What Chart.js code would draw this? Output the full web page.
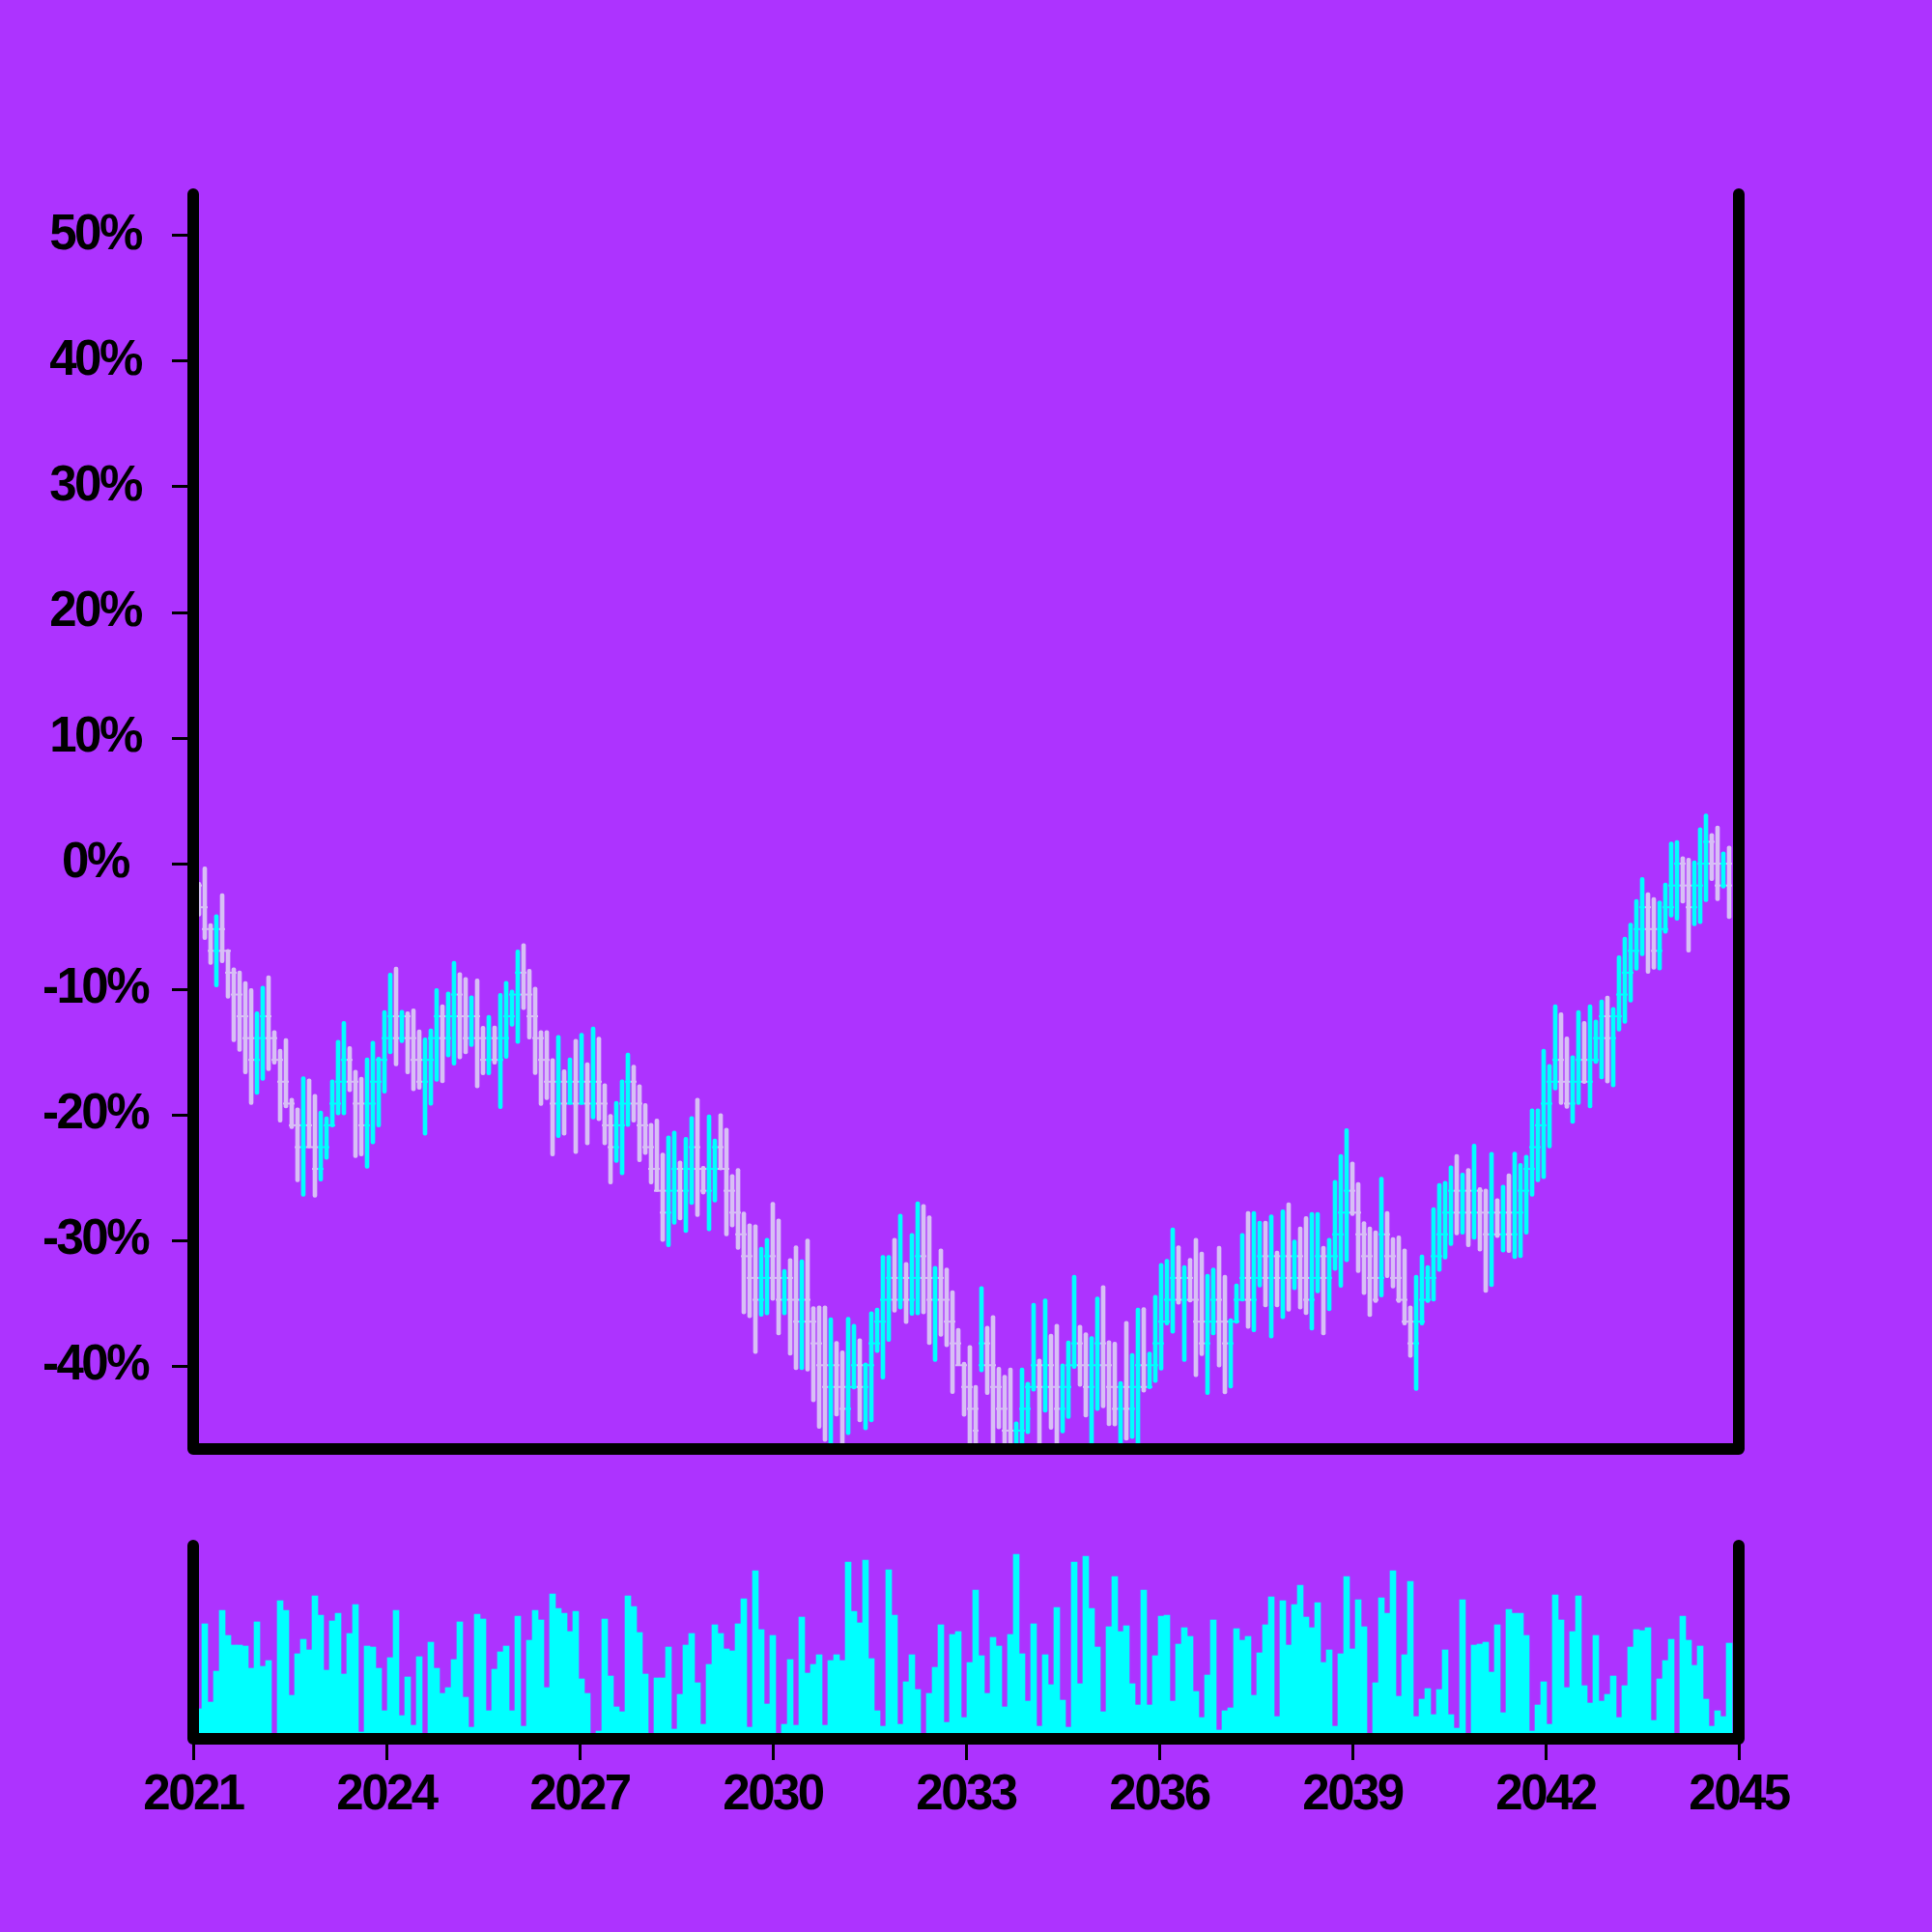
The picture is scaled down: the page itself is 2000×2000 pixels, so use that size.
<!DOCTYPE html>
<html>
<head>
<meta charset="utf-8">
<script src="https://cdn.jsdelivr.net/npm/chart.js@4.4.1/dist/chart.umd.min.js"></script>
<style>
    html, body { margin: 0; padding: 0; background: #ad33ff; }
    #wrap { position: relative; width: 2000px; height: 2000px; overflow: hidden; }
    #priceChart { position: absolute; left: 0; top: 0; }
    #volumeChart { position: absolute; left: 0; top: 1560px; }
</style>
</head>
<body>
<div id="wrap">
    <canvas id="priceChart" width="2000" height="1540"></canvas>
    <canvas id="volumeChart" width="2000" height="440"></canvas>
</div>
<script>
// x axis: years, one bar roughly every 33 days
const firstBarYear = 2021.09;
const barStepYears = 0.09;
const yearTicks = [2021, 2024, 2027, 2030, 2033, 2036, 2039, 2042, 2045];
const pctTicks = [-40, -30, -20, -10, 0, 10, 20, 30, 40, 50];

// OHLC in % change
const open = [
    -1.74,-3.47,-5.21,-6.94,-5.21,-6.94,-8.68,-10.42,-12.15,-13.89,
    -15.62,-13.89,-12.15,-13.89,-15.62,-17.36,-19.1,-20.83,-22.57,-20.83,
    -22.57,-24.3,-22.57,-20.83,-19.1,-17.36,-15.62,-17.36,-19.1,-20.83,
    -19.1,-17.36,-15.62,-13.89,-12.15,-13.89,-12.15,-13.89,-15.62,-17.36,
    -15.62,-13.89,-12.15,-13.89,-12.15,-10.42,-12.15,-13.89,-12.15,-13.89,
    -15.62,-13.89,-15.62,-13.89,-12.15,-10.42,-8.68,-10.42,-12.15,-13.89,
    -15.62,-17.36,-19.1,-17.36,-19.1,-17.36,-19.1,-17.36,-19.1,-17.36,
    -19.1,-20.83,-22.57,-20.83,-19.1,-17.36,-19.1,-20.83,-22.57,-24.3,
    -26.04,-27.78,-26.04,-24.3,-26.04,-24.3,-22.57,-24.3,-26.04,-24.3,
    -22.57,-24.3,-26.04,-27.78,-29.51,-31.25,-32.98,-34.72,-32.98,-31.25,
    -32.98,-34.72,-32.98,-34.72,-36.46,-34.72,-36.46,-38.19,-39.93,-41.66,
    -39.93,-41.66,-43.4,-41.66,-39.93,-41.66,-39.93,-38.19,-36.46,-34.72,
    -32.98,-34.72,-32.98,-34.72,-32.98,-31.25,-32.98,-34.72,-32.98,-34.72,
    -36.46,-38.19,-39.93,-41.66,-43.4,-39.93,-38.19,-39.93,-41.66,-43.4,
    -45.14,-46.87,-45.14,-43.4,-41.66,-39.93,-41.66,-39.93,-41.66,-43.4,
    -41.66,-39.93,-38.19,-39.93,-41.66,-39.93,-38.19,-39.93,-41.66,-43.4,
    -41.66,-43.4,-41.66,-39.93,-41.66,-39.93,-38.19,-36.46,-34.72,-32.98,
    -34.72,-32.98,-34.72,-36.46,-38.19,-36.46,-34.72,-36.46,-38.19,-36.46,
    -34.72,-32.98,-34.72,-32.98,-31.25,-32.98,-31.25,-32.98,-31.25,-32.98,
    -31.25,-32.98,-34.72,-32.98,-31.25,-32.98,-31.25,-29.51,-27.78,-26.04,
    -27.78,-29.51,-31.25,-32.98,-32.98,-29.51,-31.25,-32.98,-34.72,-36.46,
    -38.19,-36.46,-34.72,-32.98,-31.25,-29.51,-27.78,-26.04,-27.78,-26.04,
    -27.78,-26.04,-27.78,-29.51,-27.78,-29.51,-27.78,-29.51,-27.78,-26.04,
    -24.3,-22.57,-20.83,-19.1,-17.36,-15.62,-17.36,-19.1,-17.36,-15.62,
    -17.36,-15.62,-13.89,-12.15,-13.89,-12.15,-10.42,-8.68,-6.94,-5.21,
    -3.47,-5.21,-6.94,-5.21,-3.47,-1.74,0,-1.74,-3.47,-1.74,
    0,1.74,0,-1.74,0
];
const high = [
    -1.49,-0.26,-4.77,-4.05,-2.38,-6.82,-8.28,-8.54,-9.38,-9.95,
    -11.79,-9.74,-8.92,-13.28,-14.77,-13.92,-18.67,-19.44,-16.95,-17.13,
    -18.36,-19.69,-20.15,-17.21,-14.05,-12.56,-14.56,-16.44,-17.0,-15.46,
    -14.13,-15.41,-11.69,-8.72,-8.23,-11.67,-11.79,-11.56,-13.23,-13.87,
    -13.15,-9.95,-11.23,-10.21,-7.77,-8.67,-9.05,-10.51,-9.18,-12.95,
    -12.08,-12.92,-10.33,-9.36,-10.05,-6.87,-6.36,-8.41,-9.82,-13.28,
    -13.28,-15.51,-13.67,-16.41,-15.46,-13.97,-13.49,-15.85,-13.0,-13.8,
    -17.51,-19.95,-18.92,-17.21,-15.08,-16.03,-17.59,-19.1,-20.67,-20.33,
    -23.03,-21.67,-21.28,-23.67,-21.79,-20.13,-18.67,-24.1,-20.0,-21.92,
    -19.9,-21.05,-24.74,-24.26,-27.72,-28.67,-28.74,-30.54,-29.82,-26.95,
    -28.28,-32.31,-31.44,-30.41,-31.54,-29.87,-35.26,-35.21,-35.21,-36.15,
    -38.03,-38.79,-36.1,-36.67,-37.82,-39.74,-35.67,-35.38,-31.18,-31.18,
    -29.82,-27.9,-31.74,-29.44,-26.92,-27.13,-28.03,-32.05,-30.67,-32.18,
    -34.0,-37.0,-39.69,-38.36,-41.54,-33.67,-36.82,-35.97,-40.08,-40.72,
    -40.15,-44.44,-40.15,-41.28,-35.0,-39.44,-34.64,-37.46,-36.67,-39.82,
    -38.0,-32.77,-36.74,-37.33,-37.64,-34.49,-33.59,-37.97,-38.08,-41.23,
    -36.44,-39.0,-35.38,-35.33,-38.87,-34.36,-31.82,-31.49,-29.0,-30.41,
    -32.0,-31.41,-29.82,-30.92,-32.69,-32.18,-30.46,-32.77,-36.23,-33.46,
    -29.44,-27.69,-27.69,-28.46,-28.46,-27.95,-30.85,-27.56,-27.0,-29.95,
    -28.92,-28.1,-27.77,-27.77,-30.46,-29.82,-25.21,-23.15,-21.1,-23.74,
    -25.38,-28.49,-28.92,-29.23,-24.95,-27.69,-29.77,-29.62,-30.67,-35.21,
    -32.77,-31.15,-32.0,-27.38,-25.46,-25.28,-24.05,-23.15,-24.64,-24.26,
    -22.33,-25.79,-25.9,-22.97,-26.67,-25.59,-24.69,-22.95,-23.87,-23.21,
    -19.51,-19.51,-14.77,-15.97,-11.23,-11.87,-13.79,-15.28,-11.69,-12.56,
    -11.23,-12.44,-10.85,-10.54,-11.44,-7.33,-5.85,-4.74,-2.85,-1.1,
    -2.31,-2.69,-2.97,-1.54,1.72,1.85,0.56,0.44,0.23,2.87,
    3.95,2.41,3.0,0.95,1.41
];
const low = [
    -4.18,-6.05,-8.03,-9.82,-7.9,-10.72,-14.18,-14.95,-16.74,-19.18,
    -18.36,-17.26,-16.49,-15.97,-20.59,-19.44,-21.1,-25.33,-26.49,-22.64,
    -26.56,-25.28,-23.54,-20.97,-20.0,-20.0,-18.15,-23.41,-23.28,-24.26,
    -22.31,-20.97,-18.28,-15.13,-16.1,-14.26,-16.74,-18.08,-17.97,-21.62,
    -19.23,-17.33,-17.44,-15.38,-16.05,-15.54,-15.13,-14.56,-17.85,-16.82,
    -16.82,-15.97,-19.51,-15.51,-12.95,-14.31,-11.62,-13.97,-16.79,-19.26,
    -18.79,-23.28,-21.82,-21.62,-19.18,-23.08,-19.18,-22.38,-20.33,-20.46,
    -22.38,-25.51,-23.8,-24.77,-20.92,-20.59,-23.74,-23.15,-25.51,-26.1,
    -30.08,-30.51,-28.72,-28.36,-29.36,-27.13,-28.1,-26.31,-29.23,-26.95,
    -24.38,-29.64,-28.92,-30.72,-35.85,-36.15,-39.0,-36.03,-35.92,-34.77,
    -37.51,-35.92,-39.13,-40.28,-40.28,-40.41,-42.85,-44.95,-46.0,-47.5,
    -43.97,-47.0,-45.46,-41.82,-44.44,-45.08,-44.44,-38.92,-41.03,-38.03,
    -35.72,-35.46,-36.62,-35.97,-35.92,-35.85,-38.28,-39.64,-37.64,-38.46,
    -42.2,-39.95,-44.0,-47.5,-48.0,-40.46,-42.26,-47.0,-45.0,-47.5,
    -48.5,-48.0,-47.0,-45.38,-42.0,-47.0,-43.67,-45.03,-47.0,-45.33,
    -44.18,-40.2,-41.62,-44.05,-47.0,-43.54,-43.33,-44.74,-44.77,-47.0,
    -45.9,-45.77,-47.0,-42.08,-41.8,-41.3,-40.33,-36.74,-37.38,-35.08,
    -39.64,-34.9,-40.85,-39.18,-42.26,-37.51,-40.08,-42.21,-41.74,-36.6,
    -34.82,-37.0,-37.26,-33.72,-35.28,-37.77,-35.28,-36.23,-35.64,-33.92,
    -35.46,-35.9,-37.13,-34.18,-37.51,-35.59,-32.38,-33.74,-31.69,-28.03,
    -32.56,-34.31,-36.05,-34.95,-34.51,-32.97,-33.79,-34.95,-36.74,-39.31,
    -41.95,-36.74,-34.95,-34.82,-32.46,-31.49,-30.41,-29.56,-29.51,-30.51,
    -29.9,-30.85,-34.13,-33.67,-29.77,-30.92,-30.97,-31.44,-31.36,-29.51,
    -26.49,-25.33,-25.08,-22.64,-18.03,-19.18,-19.49,-20.67,-19.18,-17.51,
    -19.44,-15.9,-17.13,-17.46,-17.77,-13.33,-12.72,-11.03,-8.49,-7.33,
    -8.74,-8.41,-8.46,-5.54,-4.26,-4.51,-3.15,-7.05,-4.95,-4.77,
    -3.03,-1.36,-2.95,-1.95,-4.38
];
const close = [
    -3.47,-5.21,-6.94,-5.21,-6.94,-8.68,-10.42,-12.15,-13.89,-15.62,
    -13.89,-12.15,-13.89,-15.62,-17.36,-19.1,-20.83,-22.57,-20.83,-22.57,
    -24.3,-22.57,-20.83,-19.1,-17.36,-15.62,-17.36,-19.1,-20.83,-19.1,
    -17.36,-15.62,-13.89,-12.15,-13.89,-12.15,-13.89,-15.62,-17.36,-15.62,
    -13.89,-12.15,-13.89,-12.15,-10.42,-12.15,-13.89,-12.15,-13.89,-15.62,
    -13.89,-15.62,-13.89,-12.15,-10.42,-8.68,-10.42,-12.15,-13.89,-15.62,
    -17.36,-19.1,-17.36,-19.1,-17.36,-19.1,-17.36,-19.1,-17.36,-19.1,
    -20.83,-22.57,-20.83,-19.1,-17.36,-19.1,-20.83,-22.57,-24.3,-26.04,
    -27.78,-26.04,-24.3,-26.04,-24.3,-22.57,-24.3,-26.04,-24.3,-22.57,
    -24.3,-26.04,-27.78,-29.51,-31.25,-32.98,-34.72,-32.98,-31.25,-32.98,
    -34.72,-32.98,-34.72,-36.46,-34.72,-36.46,-38.19,-39.93,-41.66,-39.93,
    -41.66,-43.4,-41.66,-39.93,-41.66,-39.93,-38.19,-36.46,-34.72,-32.98,
    -34.72,-32.98,-34.72,-32.98,-31.25,-32.98,-34.72,-32.98,-34.72,-36.46,
    -38.19,-39.93,-41.66,-43.4,-45.14,-38.19,-39.93,-41.66,-43.4,-45.14,
    -46.87,-45.14,-43.4,-41.66,-39.93,-41.66,-39.93,-41.66,-43.4,-41.66,
    -39.93,-38.19,-39.93,-41.66,-39.93,-38.19,-39.93,-41.66,-43.4,-41.66,
    -43.4,-41.66,-39.93,-41.66,-39.93,-38.19,-36.46,-34.72,-32.98,-34.72,
    -32.98,-34.72,-36.46,-38.19,-36.46,-34.72,-36.46,-38.19,-36.46,-34.72,
    -32.98,-34.72,-32.98,-31.25,-32.98,-31.25,-32.98,-31.25,-32.98,-31.25,
    -32.98,-34.72,-32.98,-31.25,-32.98,-31.25,-29.51,-27.78,-26.04,-27.78,
    -29.51,-31.25,-32.98,-34.72,-29.51,-31.25,-32.98,-34.72,-36.46,-38.19,
    -36.46,-34.72,-32.98,-31.25,-29.51,-27.78,-26.04,-27.78,-26.04,-27.78,
    -26.04,-27.78,-29.51,-27.78,-29.51,-27.78,-29.51,-27.78,-26.04,-24.3,
    -22.57,-20.83,-19.1,-17.36,-15.62,-17.36,-19.1,-17.36,-15.62,-17.36,
    -15.62,-13.89,-12.15,-13.89,-12.15,-10.42,-8.68,-6.94,-5.21,-3.47,
    -5.21,-6.94,-5.21,-3.47,-1.74,0,-1.74,-3.47,-1.74,0,
    1.74,0,-1.74,0,-1.74
];
const volume = [
    31,119,38,70,133,107,97,97,96,73,
    121,75,81,3,143,133,45,88,103,92,
    148,128,71,122,130,67,109,139,7,96,
    95,73,29,84,133,24,64,14,85,3,
    100,73,47,53,82,121,43,12,129,124,
    29,72,90,96,29,127,13,102,133,123,
    53,150,135,130,111,132,62,47,3,8,
    124,65,33,28,148,137,110,67,3,63,
    63,95,10,46,97,109,58,15,77,118,
    109,93,91,119,145,12,174,113,36,107,
    3,15,82,14,126,68,77,87,14,81,
    87,81,183,132,120,185,83,29,13,175,
    128,15,59,87,51,3,47,74,118,17,
    108,111,22,79,154,86,47,105,96,33,
    108,191,88,39,119,13,87,56,136,40,
    12,183,57,189,135,95,28,116,168,111,
    117,57,35,154,35,86,127,128,39,98,
    115,106,49,22,66,123,9,29,32,114,
    102,106,45,89,118,147,23,143,97,139,
    159,126,115,141,79,92,13,88,168,93,
    144,116,3,58,146,130,174,44,87,163,
    23,41,52,25,51,92,25,11,144,3,
    97,98,100,69,118,27,134,130,130,107,
    8,35,59,15,149,123,53,111,148,55,
    37,107,39,46,65,22,55,95,113,112,
    115,19,62,81,103,3,127,102,76,96,
    41,13,29,23,99
];

const dates = open.map((_, i) => firstBarYear + barStepYears * i);

const upColor = '#00ffff';
const downColor = '#d8bff5';
const barColors = open.map((o, i) => close[i] >= o ? upColor : downColor);

Chart.defaults.font.family = '"Liberation Sans", Arial, sans-serif';
Chart.defaults.font.weight = 'bold';
Chart.defaults.font.size = 51;
Chart.defaults.color = '#000';
Chart.defaults.animation = false;

// thick black frame: left, bottom and right sides of the plot area
const framePlugin = {
    id: 'frame',
    afterDatasetsDraw(chart) {
        const { ctx, chartArea: a } = chart;
        ctx.save();
        ctx.strokeStyle = '#000';
        ctx.lineWidth = 12;
        ctx.lineCap = 'round';
        ctx.lineJoin = 'round';
        ctx.beginPath();
        ctx.moveTo(a.left, a.top);
        ctx.lineTo(a.left, a.bottom);
        ctx.lineTo(a.right, a.bottom);
        ctx.lineTo(a.right, a.top);
        ctx.stroke();
        ctx.restore();
    }
};

const tightText = {
    id: 'tightText',
    beforeDraw(chart) { chart.ctx.letterSpacing = '-2.5px'; }
};

let priceChart, volumeChart;

function initPriceChart() {
    const ctx = document.getElementById('priceChart').getContext('2d');
    priceChart = new Chart(ctx, {
        type: 'bar',
        data: {
            datasets: [{
                label: 'range',
                data: dates.map((x, i) => ({ x: x, y: [low[i], high[i]] })),
                backgroundColor: barColors,
                barThickness: 4,
                borderRadius: 2,
                borderSkipped: false,
                order: 2
            }, {
                type: 'line',
                label: 'open',
                data: dates.map((x, i) => ({ x: x, y: open[i] })),
                showLine: false,
                pointStyle: 'line',
                pointRadius: 3,
                pointBorderWidth: 2,
                pointBorderColor: barColors,
                order: 1
            }, {
                type: 'line',
                label: 'close',
                data: dates.map((x, i) => ({ x: x, y: close[i] })),
                showLine: false,
                pointStyle: 'line',
                pointRadius: 3,
                pointBorderWidth: 2,
                pointBorderColor: barColors,
                order: 1
            }]
        },
        options: {
            responsive: false,
            layout: { padding: { top: 201, right: 200, bottom: 40, left: 0 } },
            plugins: { legend: { display: false }, tooltip: { enabled: false } },
            scales: {
                x: {
                    type: 'linear',
                    display: false,
                    min: 2021,
                    max: 2045,
                    offset: false
                },
                y: {
                    min: -46.6,
                    max: 53.3,
                    afterFit: s => { s.width = 200; s.paddingTop = 0; s.paddingBottom = 0; },
                    afterBuildTicks: s => { s.ticks = pctTicks.map(v => ({ value: v })); },
                    border: { display: false },
                    grid: {
                        drawOnChartArea: false,
                        tickLength: 22,
                        tickWidth: 3,
                        tickColor: '#000'
                    },
                    ticks: {
                        crossAlign: 'center',
                        padding: 20,
                        color: '#000',
                        callback: v => v + '%'
                    }
                }
            }
        },
        plugins: [tightText, framePlugin]
    });
}

function initVolumeChart() {
    const ctx = document.getElementById('volumeChart').getContext('2d');
    volumeChart = new Chart(ctx, {
        type: 'bar',
        data: {
            datasets: [{
                label: 'volume',
                data: dates.map((x, i) => ({ x: x, y: volume[i] })),
                backgroundColor: upColor,
                barThickness: 6,
                borderSkipped: false
            }]
        },
        options: {
            responsive: false,
            layout: { padding: { top: 40, right: 200, bottom: 100, left: 200 } },
            plugins: { legend: { display: false }, tooltip: { enabled: false } },
            scales: {
                x: {
                    type: 'linear',
                    min: 2021,
                    max: 2045,
                    offset: false,
                    afterFit: s => { s.height = 100; },
                    afterBuildTicks: s => { s.ticks = yearTicks.map(v => ({ value: v })); },
                    border: { display: false },
                    grid: {
                        offset: false,
                        drawOnChartArea: false,
                        tickLength: 22,
                        tickWidth: 3,
                        tickColor: '#000'
                    },
                    ticks: {
                        padding: 6,
                        maxRotation: 0,
                        autoSkip: false,
                        color: '#000',
                        callback: v => String(v)
                    }
                },
                y: {
                    display: false,
                    min: 0,
                    max: 200
                }
            }
        },
        plugins: [tightText, framePlugin]
    });
}

initPriceChart();
initVolumeChart();
</script>
</body>
</html>
